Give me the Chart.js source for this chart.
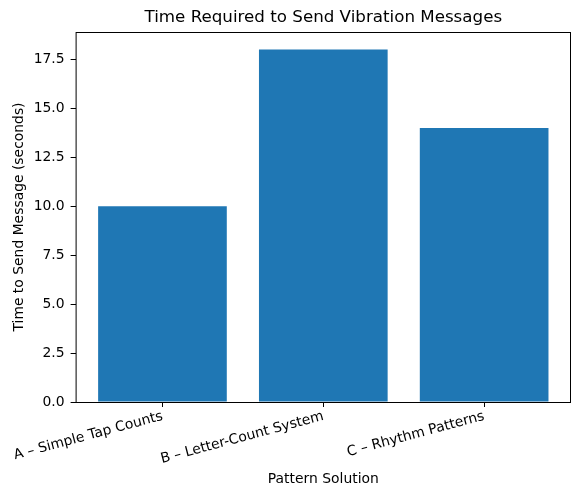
<!DOCTYPE html>
<html>
<head>
<meta charset="utf-8">
<script src="https://cdn.jsdelivr.net/npm/chart.js"></script>
<style>
  html, body { margin: 0; padding: 0; background: #fff; }
  #wrap { width: 580px; height: 498px; }
</style>
</head>
<body>
<div id="wrap"><canvas id="chart" width="580" height="498"></canvas></div>
<script>
// chart data
const categories = ["A \u2013 Simple Tap Counts", "B \u2013 Letter-Count System", "C \u2013 Rhythm Patterns"];
const sendTimes = [10, 18, 14];
const yTicks = [0, 2.5, 5, 7.5, 10, 12.5, 15, 17.5];

const chartTitle = "Time Required to Send Vibration Messages";
const FONT = "'DejaVu Sans', sans-serif";

// title centred over the plot area, plus the axes box
const framePlugin = {
    id: 'frame',
    afterDraw(chart) {
        const { ctx, chartArea } = chart;
        ctx.save();
        ctx.strokeStyle = '#000';
        ctx.lineWidth = 1;
        ctx.strokeRect(chartArea.left + 0.5, chartArea.top + 0.5,
            chartArea.right - chartArea.left - 1, chartArea.bottom - chartArea.top);
        ctx.fillStyle = '#000';
        ctx.font = "16.7px " + FONT;
        ctx.textAlign = 'center';
        ctx.textBaseline = 'middle';
        ctx.fillText(chartTitle, (chartArea.left + chartArea.right) / 2, 18);
        ctx.restore();
    }
};

function renderChart() {
    const ctx = document.getElementById('chart').getContext('2d');
    new Chart(ctx, {
        type: 'bar',
        data: {
            datasets: [{
                data: sendTimes.map((v, i) => ({ x: i, y: v })),
                backgroundColor: '#1f77b4',
                borderWidth: 0,
                inflateAmount: 0,
                barPercentage: 0.8,
                categoryPercentage: 1.0
            }]
        },
        options: {
            responsive: false,
            animation: false,
            layout: { padding: { top: 32, right: 9, left: 0, bottom: 0 } },
            plugins: { legend: { display: false }, tooltip: { enabled: false } },
            scales: {
                x: {
                    type: 'linear',
                    min: -0.54,
                    max: 2.54,
                    offset: false,
                    afterBuildTicks: axis => { axis.ticks = categories.map((c, i) => ({ value: i })); },
                    afterFit: scale => { scale.height = 96; },
                    grid: { display: true, offset: false, drawOnChartArea: false, drawTicks: true, tickLength: 5, color: '#000' },
                    border: { display: false },
                    ticks: {
                        autoSkip: false,
                        minRotation: 15,
                        maxRotation: 15,
                        padding: 1,
                        color: '#000',
                        font: { family: FONT, size: 13.9 },
                        callback: v => categories[v] || ''
                    },
                    title: {
                        display: true,
                        text: 'Pattern Solution',
                        color: '#000',
                        font: { family: FONT, size: 13.9 },
                        padding: { top: 0, bottom: 10 }
                    }
                },
                y: {
                    min: 0,
                    max: 18.9,
                    afterBuildTicks: axis => { axis.ticks = yTicks.map(v => ({ value: v })); },
                    afterFit: scale => { scale.width = 75; },
                    grid: { display: true, drawOnChartArea: false, drawTicks: true, tickLength: 5, color: '#000' },
                    border: { display: false },
                    ticks: {
                        padding: 6,
                        color: '#000',
                        font: { family: FONT, size: 13.9 },
                        callback: v => v.toFixed(1)
                    },
                    title: {
                        display: true,
                        text: 'Time to Send Message (seconds)',
                        color: '#000',
                        font: { family: FONT, size: 13.9 },
                        padding: { top: 10, bottom: 0 }
                    }
                }
            }
        },
        plugins: [framePlugin]
    });
}

renderChart();
</script>
</body>
</html>
